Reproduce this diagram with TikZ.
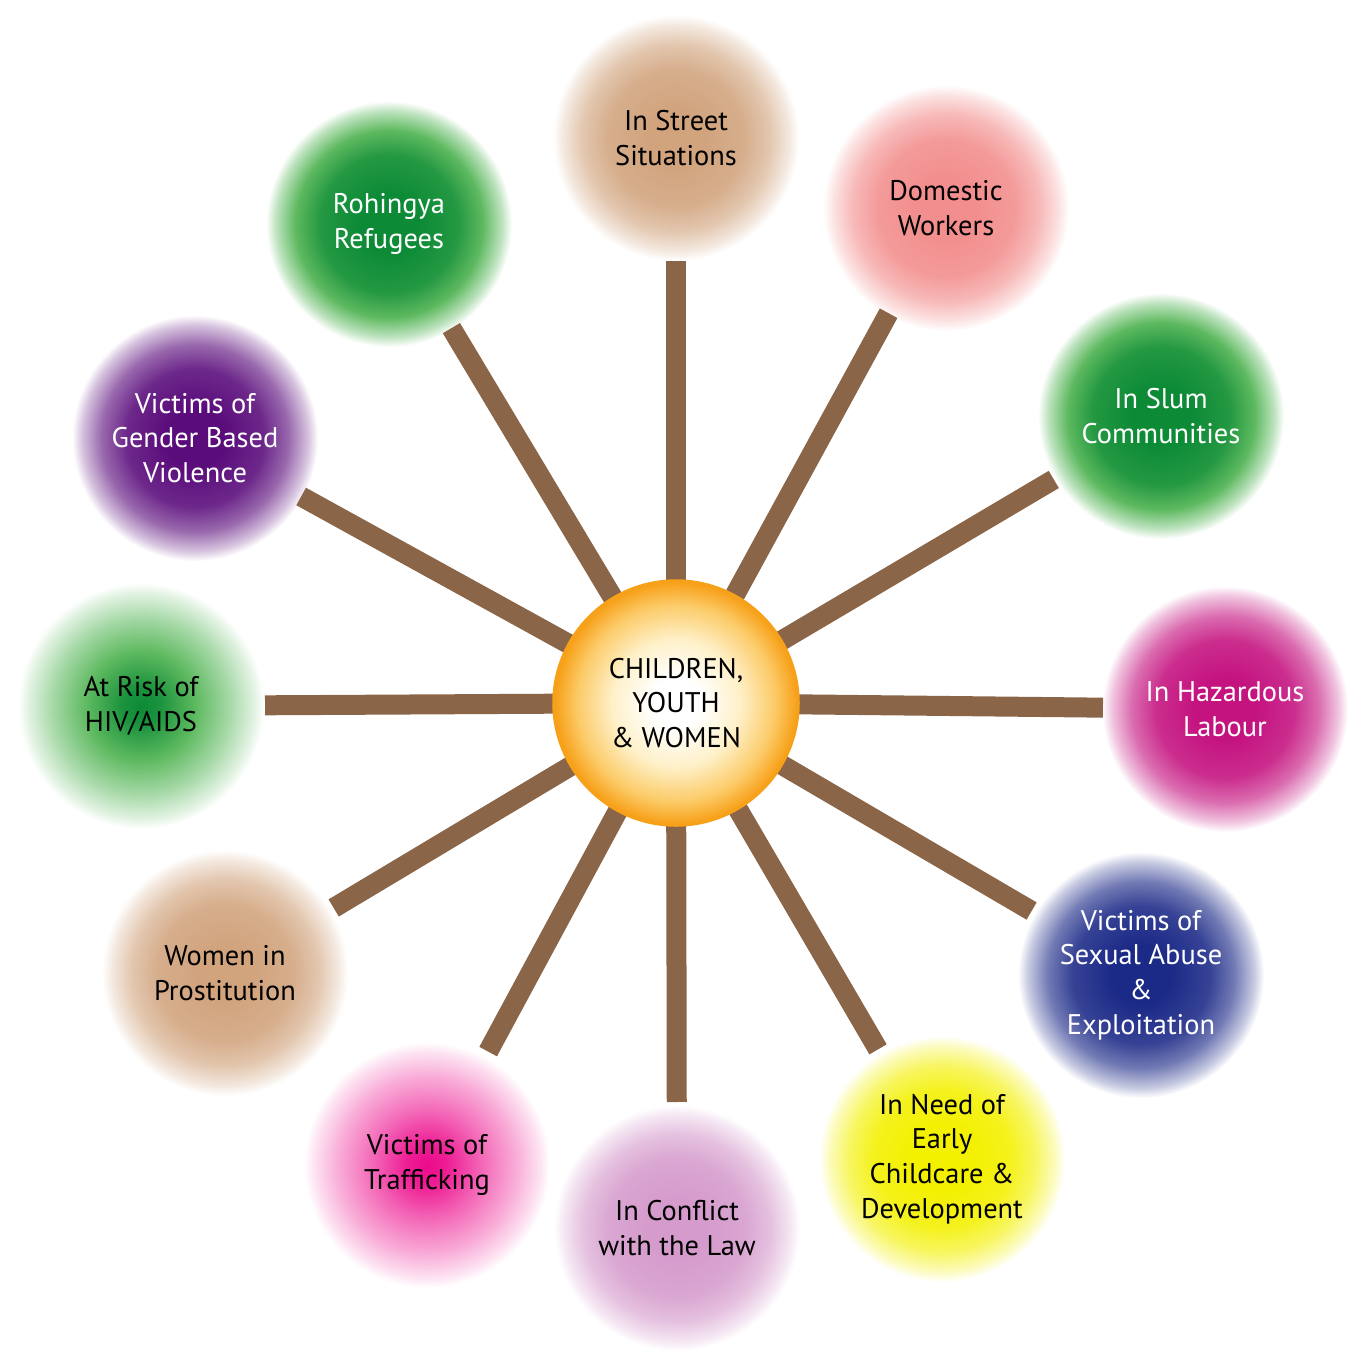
\documentclass[tikz,border=0pt]{standalone}
\usepackage{fontspec}
\setmainfont{PT Sans}
\usetikzlibrary{calc}
\definecolor{spokeC}{HTML}{8B6548}
\definecolor{tanC}{HTML}{D1A47E}
\definecolor{salmonC}{HTML}{F28E8D}
\definecolor{greenC}{HTML}{0C8A36}
\definecolor{greenM}{HTML}{5DB95F}
\definecolor{magentaC}{HTML}{C4127F}
\definecolor{blueC}{HTML}{1C2A87}
\definecolor{yellowC}{HTML}{F3F000}
\definecolor{lilacC}{HTML}{D59BCC}
\definecolor{pinkC}{HTML}{EC0A8B}
\definecolor{purpleC}{HTML}{5A0C7B}
\colorlet{tanM}{tanC!62!white}
\colorlet{salmonM}{salmonC!62!white}
\colorlet{magentaM}{magentaC!62!white}
\colorlet{blueM}{blueC!62!white}
\colorlet{yellowM}{yellowC!62!white}
\colorlet{lilacM}{lilacC!62!white}
\colorlet{pinkM}{pinkC!62!white}
\colorlet{purpleM}{purpleC!62!white}
\definecolor{hubB}{HTML}{FEF0C8}
\definecolor{hubC}{HTML}{FCCB68}
\definecolor{hubD}{HTML}{F7A11A}
% name, inner colour, middle colour
\newcommand\plateaushade[3]{\pgfdeclareradialshading{#1}{\pgfpoint{0bp}{0bp}}{color(0bp)=(#2); color(6bp)=(#2); color(14bp)=(#2!70!#3); color(19bp)=(#3); color(23bp)=(#3!40!white); color(25bp)=(white); color(50bp)=(white)}}
\newcommand\peakshade[3]{\pgfdeclareradialshading{#1}{\pgfpoint{0bp}{0bp}}{color(0bp)=(#2); color(4bp)=(#2!80!#3); color(11bp)=(#3); color(18bp)=(#3!55!white); color(23bp)=(#3!18!white); color(25bp)=(white); color(50bp)=(white)}}
\plateaushade{shTan}{tanC}{tanM}
\plateaushade{shSalmon}{salmonC}{salmonM}
\plateaushade{shGreen}{greenC}{greenM}
\peakshade{shHIV}{greenC}{greenM}
\plateaushade{shMagenta}{magentaC}{magentaM}
\plateaushade{shBlue}{blueC}{blueM}
\plateaushade{shYellow}{yellowC}{yellowM}
\plateaushade{shLilac}{lilacC}{lilacM}
\peakshade{shPink}{pinkC}{pinkM}
\plateaushade{shPurple}{purpleC}{purpleM}
\pgfdeclareradialshading{shHub}{\pgfpoint{0bp}{0bp}}{color(0bp)=(white); color(5bp)=(white); color(13bp)=(hubB); color(20bp)=(hubC); color(24.5bp)=(hubD); color(25bp)=(hubD); color(50bp)=(hubD)}
\pgfdeclarelayer{circ}
\pgfdeclarelayer{spk}
\pgfsetlayers{circ,spk,main}
\newcommand\lblfont{\fontsize{28.4}{34.8}\selectfont}
\tikzset{
  fuzzy/.style={circle, minimum size=246pt, inner sep=0pt, align=center, font=\lblfont, text=black},
  wtext/.style={text=white},
  spoke/.style={draw=spokeC, line width=20pt, line cap=butt},
  hubnode/.style={circle, minimum size=246pt, inner sep=0pt, align=center, font=\lblfont, draw=hubD, line width=1.5pt, shading=shHub}
}
\begin{document}
\begin{tikzpicture}[x=1pt, y=-1pt]
\useasboundingbox (0,0) rectangle (1366,1366);
\begin{pgfonlayer}{circ}
\node[fuzzy, shading=shTan] (c1) at (676,138) {In Street\\Situations};
\node[fuzzy, shading=shSalmon] (c2) at (946,208) {Domestic\\Workers};
\node[fuzzy, wtext, shading=shGreen] (c3) at (1161,416) {In Slum\\Communities};
\node[fuzzy, wtext, shading=shMagenta] (c4) at (1225,709) {In Hazardous\\Labour};
\node[fuzzy, wtext, shading=shBlue] (c5) at (1141,975) {Victims of\\Sexual Abuse\\\&\\Exploitation};
\node[fuzzy, shading=shYellow] (c6) at (942,1159) {In Need of\\Early\\Childcare \&\\Development};
\node[fuzzy, shading=shLilac] (c7) at (677,1228) {In Conflict\\with the Law};
\node[fuzzy, shading=shPink] (c8) at (427,1165) {Victims of\\Trafficking};
\node[fuzzy, shading=shTan] (c9) at (225,973) {Women in\\Prostitution};
\node[fuzzy, shading=shHIV] (c10) at (141,706) {At Risk of\\HIV/AIDS};
\node[fuzzy, wtext, shading=shPurple] (c11) at (195,438) {Victims of\\Gender Based\\Violence};
\node[fuzzy, wtext, shading=shGreen] (c12) at (389,224) {Rohingya\\Refugees};
\end{pgfonlayer}
\node[hubnode] (hub) at (676,703) {CHILDREN,\\YOUTH\\\& WOMEN};
\coordinate (e1) at ($(hub.center)!442pt!(c1.center)$);
\coordinate (e2) at ($(hub.center)!444pt!(c2.center)$);
\coordinate (e3) at ($(hub.center)!439pt!(c3.center)$);
\coordinate (e4) at ($(hub.center)!427pt!(c4.center)$);
\coordinate (e5) at ($(hub.center)!412pt!(c5.center)$);
\coordinate (e6) at ($(hub.center)!401pt!(c6.center)$);
\coordinate (e7) at ($(hub.center)!399pt!(c7.center)$);
\coordinate (e8) at ($(hub.center)!396pt!(c8.center)$);
\coordinate (e9) at ($(hub.center)!399pt!(c9.center)$);
\coordinate (e10) at ($(hub.center)!411pt!(c10.center)$);
\coordinate (e11) at ($(hub.center)!428pt!(c11.center)$);
\coordinate (e12) at ($(hub.center)!437pt!(c12.center)$);
\begin{pgfonlayer}{spk}
\foreach \i in {1,...,12}{\draw[spoke] (hub.center) -- (e\i);}
\end{pgfonlayer}
\end{tikzpicture}
\end{document}
